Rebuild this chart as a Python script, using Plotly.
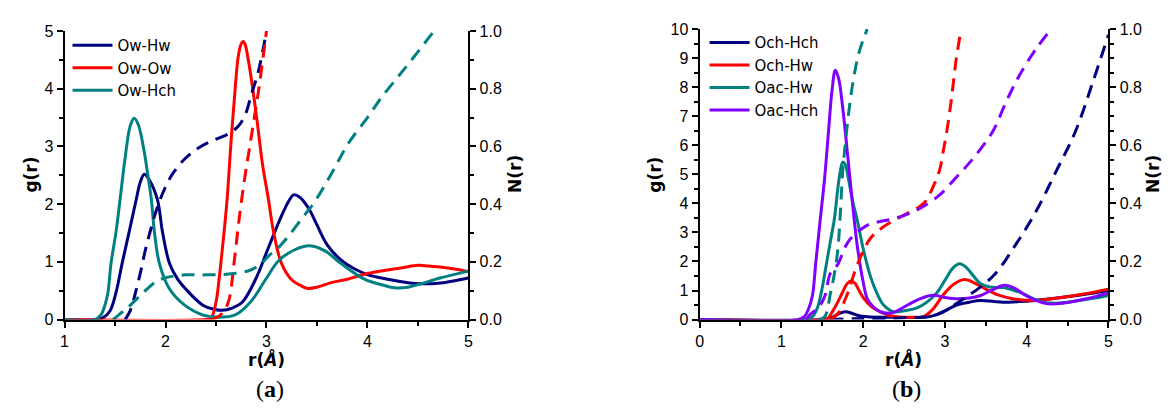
import plotly.graph_objects as go

# ---------------- Panel (a): water oxygen RDFs ----------------
# g(r) curves (left axis)
a_owhw_r = [1.0, 1.3, 1.38, 1.45, 1.51, 1.57, 1.64, 1.71, 1.75, 1.79, 1.84, 1.92, 1.97, 2.04, 2.12, 2.2, 2.37, 2.48, 2.56, 2.66, 2.76, 2.89, 3.02, 3.15, 3.22, 3.27, 3.33, 3.42, 3.5, 3.6, 3.74, 3.87, 4.0, 4.2, 4.4, 4.53, 4.7, 4.85, 5.0]
a_owhw_g = [0.0, 0.0, 0.03, 0.15, 0.47, 0.97, 1.52, 2.08, 2.38, 2.52, 2.42, 2.08, 1.52, 0.97, 0.7, 0.53, 0.25, 0.18, 0.16, 0.2, 0.3, 0.69, 1.25, 1.8, 2.05, 2.16, 2.12, 1.92, 1.64, 1.3, 1.03, 0.88, 0.78, 0.7, 0.64, 0.62, 0.63, 0.67, 0.72]

a_owow_r = [1.0, 2.4, 2.45, 2.5, 2.53, 2.58, 2.61, 2.65, 2.69, 2.72, 2.75, 2.77, 2.79, 2.82, 2.86, 2.91, 2.96, 3.02, 3.07, 3.15, 3.25, 3.35, 3.41, 3.5, 3.64, 3.8, 4.0, 4.2, 4.35, 4.5, 4.6, 4.72, 4.85, 5.0]
a_owow_g = [0.0, 0.0, 0.02, 0.3, 0.69, 1.52, 2.08, 3.1, 4.0, 4.55, 4.78, 4.82, 4.76, 4.5, 4.05, 3.4, 2.7, 2.08, 1.52, 0.97, 0.69, 0.58, 0.54, 0.56, 0.64, 0.7, 0.8, 0.86, 0.9, 0.94, 0.93, 0.91, 0.88, 0.83]

a_owhch_r = [1.0, 1.3, 1.36, 1.4, 1.43, 1.46, 1.51, 1.55, 1.6, 1.65, 1.69, 1.73, 1.78, 1.83, 1.86, 1.89, 1.94, 2.04, 2.19, 2.37, 2.53, 2.69, 2.84, 2.99, 3.12, 3.28, 3.43, 3.58, 3.74, 3.97, 4.15, 4.27, 4.4, 4.53, 4.72, 5.0]
a_owhch_g = [0.0, 0.0, 0.08, 0.25, 0.47, 0.97, 1.52, 2.08, 2.8, 3.35, 3.49, 3.38, 3.0, 2.45, 2.08, 1.52, 0.97, 0.53, 0.25, 0.08, 0.04, 0.08, 0.3, 0.69, 1.02, 1.21, 1.28, 1.19, 0.97, 0.7, 0.6, 0.55, 0.56, 0.62, 0.72, 0.84]

# N(r) curves (right axis)
a_nowhw_r = [1.6, 1.65, 1.7, 1.75, 1.8, 1.86, 1.92, 2.0, 2.08, 2.2, 2.35, 2.5, 2.63, 2.72, 2.79, 2.85, 2.92, 3.0]
a_nowhw_n = [0.0, 0.03, 0.09, 0.16, 0.24, 0.32, 0.39, 0.46, 0.51, 0.56, 0.6, 0.625, 0.645, 0.67, 0.71, 0.78, 0.86, 1.0]

a_nowow_r = [2.45, 2.52, 2.58, 2.63, 2.68, 2.73, 2.78, 2.83, 2.88, 2.92, 2.96, 3.0]
a_nowow_n = [0.0, 0.01, 0.03, 0.07, 0.2, 0.35, 0.48, 0.59, 0.7, 0.79, 0.89, 1.0]

a_nowhch_r = [1.48, 1.55, 1.62, 1.71, 1.8, 1.9, 2.0, 2.2, 2.4, 2.63, 2.83, 2.95, 3.02, 3.12, 3.22, 3.35, 3.48, 3.65, 3.81, 4.0, 4.14, 4.3, 4.46, 4.66]
a_nowhch_n = [0.0, 0.02, 0.04, 0.07, 0.1, 0.13, 0.145, 0.155, 0.155, 0.158, 0.17, 0.195, 0.22, 0.25, 0.29, 0.35, 0.41, 0.51, 0.61, 0.7, 0.77, 0.84, 0.91, 1.0]

# ---------------- Panel (b): chitosan / acetate oxygen RDFs ----------------
b_ochhch_r = [0.0, 1.5, 1.6, 1.7, 1.78, 1.86, 1.95, 2.05, 2.3, 2.6, 2.8, 2.9, 3.02, 3.14, 3.3, 3.43, 3.6, 3.71, 3.9, 4.1, 4.4, 4.7, 5.0]
b_ochhch_g = [0.0, 0.0, 0.05, 0.2, 0.27, 0.22, 0.13, 0.1, 0.08, 0.07, 0.1, 0.17, 0.33, 0.5, 0.6, 0.66, 0.62, 0.6, 0.62, 0.66, 0.75, 0.86, 1.0]

b_ochhw_r = [0.0, 1.5, 1.57, 1.63, 1.69, 1.75, 1.8, 1.85, 1.9, 1.95, 2.01, 2.1, 2.21, 2.3, 2.41, 2.6, 2.74, 2.85, 2.98, 3.1, 3.24, 3.37, 3.5, 3.65, 3.83, 4.11, 4.4, 4.7, 5.0]
b_ochhw_g = [0.0, 0.0, 0.05, 0.3, 0.6, 0.95, 1.22, 1.33, 1.25, 1.0, 0.72, 0.45, 0.27, 0.16, 0.1, 0.08, 0.1, 0.35, 0.85, 1.2, 1.38, 1.25, 1.05, 0.85, 0.72, 0.66, 0.75, 0.88, 1.05]

b_oachw_r = [0.0, 1.3, 1.38, 1.44, 1.5, 1.55, 1.6, 1.65, 1.69, 1.72, 1.75, 1.78, 1.82, 1.87, 1.93, 2.0, 2.09, 2.17, 2.25, 2.37, 2.5, 2.66, 2.78, 2.9, 3.0, 3.1, 3.18, 3.26, 3.35, 3.43, 3.55, 3.71, 3.83, 3.95, 4.08, 4.2, 4.35, 4.5, 4.7, 4.85, 5.0]
b_oachw_g = [0.0, 0.0, 0.1, 0.4, 1.1, 1.9, 2.7, 3.5, 4.5, 5.1, 5.42, 5.35, 4.85, 4.1, 3.4, 2.45, 1.48, 0.9, 0.5, 0.27, 0.3, 0.4, 0.6, 0.92, 1.35, 1.78, 1.92, 1.8, 1.5, 1.25, 1.12, 1.1, 1.02, 0.9, 0.72, 0.6, 0.56, 0.6, 0.68, 0.75, 0.83]

b_oachch_r = [0.0, 1.2, 1.28, 1.33, 1.38, 1.42, 1.47, 1.53, 1.58, 1.62, 1.66, 1.7, 1.75, 1.81, 1.87, 1.93, 2.0, 2.05, 2.12, 2.21, 2.33, 2.45, 2.58, 2.7, 2.82, 2.9, 2.98, 3.14, 3.3, 3.43, 3.58, 3.73, 3.85, 3.99, 4.12, 4.24, 4.4, 4.52, 4.7, 4.85, 5.0]
b_oachch_g = [0.0, 0.0, 0.1, 0.35, 0.83, 1.93, 3.3, 4.9, 6.6, 7.9, 8.58, 8.3, 7.3, 5.67, 4.0, 2.5, 1.3, 0.72, 0.45, 0.27, 0.22, 0.35, 0.56, 0.72, 0.83, 0.83, 0.77, 0.72, 0.74, 0.82, 1.02, 1.18, 1.08, 0.83, 0.65, 0.55, 0.55, 0.6, 0.7, 0.8, 0.92]

b_nochhch_r = [1.6, 1.9, 2.5, 2.9, 3.22, 3.59, 3.87, 4.11, 4.36, 4.6, 4.8, 5.0]
b_nochhch_n = [0.0, 0.003, 0.006, 0.017, 0.07, 0.15, 0.26, 0.37, 0.51, 0.65, 0.81, 0.98]

b_nochhw_r = [1.6, 1.69, 1.81, 1.93, 2.09, 2.25, 2.5, 2.74, 2.86, 2.94, 2.98, 3.03, 3.08, 3.14, 3.2]
b_nochhw_n = [0.0, 0.02, 0.09, 0.19, 0.28, 0.32, 0.36, 0.40, 0.46, 0.52, 0.58, 0.66, 0.76, 0.9, 1.0]

b_noachw_r = [1.45, 1.53, 1.6, 1.65, 1.69, 1.72, 1.75, 1.78, 1.81, 1.85, 1.89, 1.95, 2.05]
b_noachw_n = [0.0, 0.01, 0.09, 0.16, 0.24, 0.36, 0.51, 0.6, 0.68, 0.77, 0.84, 0.92, 1.0]

b_noachch_r = [1.3, 1.36, 1.45, 1.53, 1.6, 1.69, 1.78, 1.85, 1.97, 2.09, 2.25, 2.41, 2.6, 2.74, 2.94, 3.14, 3.27, 3.39, 3.59, 3.75, 3.91, 4.11, 4.3]
b_noachch_n = [0.0, 0.02, 0.04, 0.08, 0.16, 0.19, 0.25, 0.28, 0.31, 0.33, 0.34, 0.35, 0.37, 0.39, 0.43, 0.49, 0.53, 0.57, 0.65, 0.75, 0.84, 0.93, 1.0]

labels_a = ["Ow-Hw", "Ow-Ow", "Ow-Hch"]
labels_b = ["Och-Hch", "Och-Hw", "Oac-Hw", "Oac-Hch"]

NAVY = "#000080"
RED = "#ff0000"
TEAL = "#008080"
VIOLET = "#8000ff"
LW = 3
DASH = "13px,8px"
SMOOTH = 1.0

fig = go.Figure()


def solid(x, y, name, color, xa, ya, legend):
    fig.add_trace(go.Scatter(x=x, y=y, mode="lines", name=name, legend=legend,
                             line=dict(color=color, width=LW, shape="spline", smoothing=SMOOTH),
                             xaxis=xa, yaxis=ya))


def dashed(x, y, color, xa, ya):
    fig.add_trace(go.Scatter(x=x, y=y, mode="lines", showlegend=False,
                             line=dict(color=color, width=LW, dash=DASH, shape="spline", smoothing=SMOOTH),
                             xaxis=xa, yaxis=ya))


# panel (a)
solid(a_owhw_r, a_owhw_g, labels_a[0], NAVY, "x", "y", "legend")
solid(a_owow_r, a_owow_g, labels_a[1], RED, "x", "y", "legend")
solid(a_owhch_r, a_owhch_g, labels_a[2], TEAL, "x", "y", "legend")
dashed(a_nowhw_r, a_nowhw_n, NAVY, "x", "y2")
dashed(a_nowow_r, a_nowow_n, RED, "x", "y2")
dashed(a_nowhch_r, a_nowhch_n, TEAL, "x", "y2")

# panel (b)
solid(b_ochhch_r, b_ochhch_g, labels_b[0], NAVY, "x3", "y3", "legend2")
solid(b_ochhw_r, b_ochhw_g, labels_b[1], RED, "x3", "y3", "legend2")
solid(b_oachw_r, b_oachw_g, labels_b[2], TEAL, "x3", "y3", "legend2")
solid(b_oachch_r, b_oachch_g, labels_b[3], VIOLET, "x3", "y3", "legend2")
dashed(b_nochhch_r, b_nochhch_n, NAVY, "x3", "y4")
dashed(b_nochhw_r, b_nochhw_n, RED, "x3", "y4")
dashed(b_noachw_r, b_noachw_n, TEAL, "x3", "y4")
dashed(b_noachch_r, b_noachch_n, VIOLET, "x3", "y4")

W, H = 1169, 412
TICKFONT = dict(family="Liberation Sans, Arial, sans-serif", size=16, color="black")
LEGFONT = dict(family="DejaVu Sans, Verdana, sans-serif", size=15, color="black")


def px_x(p):
    return p / W


def px_y(p):
    return 1 - p / H


base = dict(showgrid=False, zeroline=False, showline=True, linecolor="black", linewidth=2,
            ticks="outside", ticklen=6, tickwidth=2, tickcolor="black", tickfont=TICKFONT)
minor_out = dict(ticklen=4, tickwidth=2, ticks="outside", tickcolor="black")

dom_a = [px_x(61), px_x(468)]
dom_b = [px_x(701), px_x(1113)]
ydom_a = [px_y(325), px_y(24)]
ydom_b = [px_y(325), px_y(22)]

fig.update_layout(
    width=W, height=H, margin=dict(l=0, r=0, t=0, b=0),
    paper_bgcolor="white", plot_bgcolor="white",
    xaxis=dict(base, domain=dom_a, range=[1, 5], anchor="y", dtick=1,
               minor=dict(minor_out, dtick=0.5)),
    xaxis2=dict(base, domain=dom_a, range=[1, 5], anchor="y", overlaying="x", side="top",
                ticks="inside", ticklen=4, dtick=0.5, showticklabels=False),
    yaxis=dict(base, domain=ydom_a, range=[0, 5], anchor="x", dtick=1,
               minor=dict(minor_out, dtick=0.5)),
    yaxis2=dict(base, domain=ydom_a, range=[0, 1], anchor="x", overlaying="y", side="right",
                dtick=0.2, tickformat=".1f", minor=dict(minor_out, dtick=0.1)),
    xaxis3=dict(base, domain=dom_b, range=[0, 5], anchor="y3", dtick=1,
                minor=dict(minor_out, dtick=0.5)),
    xaxis4=dict(base, domain=dom_b, range=[0, 5], anchor="y3", overlaying="x3", side="top",
                ticks="inside", ticklen=4, dtick=0.5, showticklabels=False),
    yaxis3=dict(base, domain=ydom_b, range=[0, 10], anchor="x3", dtick=1,
                minor=dict(minor_out, dtick=0.5)),
    yaxis4=dict(base, domain=ydom_b, range=[0, 1], anchor="x3", overlaying="y3", side="right",
                dtick=0.2, tickformat=".1f", minor=dict(minor_out, dtick=0.05)),
    legend=dict(x=px_x(64), y=px_y(22), xanchor="left", yanchor="top",
                bgcolor="rgba(0,0,0,0)", itemwidth=40, font=LEGFONT),
    legend2=dict(x=px_x(706), y=px_y(19), xanchor="left", yanchor="top",
                 bgcolor="rgba(0,0,0,0)", itemwidth=40, font=LEGFONT),
)

TITLEFONT = dict(family="DejaVu Sans, Verdana, sans-serif", size=17, color="black")
SERIF = dict(family="Liberation Serif, Times New Roman, serif", size=24, color="black")


def note(text, x, y, font, angle=0):
    fig.add_annotation(text=text, x=px_x(x), y=px_y(y), xref="paper", yref="paper",
                       showarrow=False, font=font, textangle=angle,
                       xanchor="center", yanchor="middle")


note("<b>g(r)</b>", 27, 174, TITLEFONT, -90)
note("<b>N(r)</b>", 515, 173, TITLEFONT, -90)
note("<b>r(<i>Å</i>)</b>", 265, 366, TITLEFONT)
note("(<b>a</b>)", 268, 397, SERIF)

note("<b>g(r)</b>", 656, 174, TITLEFONT, -90)
note("<b>N(r)</b>", 1158, 173, TITLEFONT, -90)
note("<b>r(<i>Å</i>)</b>", 906, 366, TITLEFONT)
note("(<b>b</b>)", 910, 397, SERIF)

fig.write_html("out.html")
